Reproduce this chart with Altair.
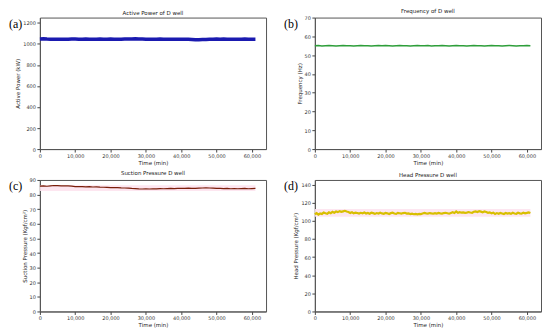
import altair as alt
import pandas as pd

# ---- data ----
x_ticks = [0, 10000, 20000, 30000, 40000, 50000, 60000]

active_power = [1047,1048,1046,1045,1044,1043,1043,1044,1045,1046,
                1046,1045,1045,1046,1045,1044,1045,1046,1045,1045,
                1046,1045,1044,1045,1046,1047,1047,1048,1047,1046,
                1045,1044,1044,1045,1046,1045,1044,1045,1044,1043,
                1043,1044,1043,1042,1040,1040,1041,1042,1044,1045,
                1046,1045,1046,1045,1044,1045,1044,1045,1046,1045,
                1044,1044]

frequency = [55.0,55.1,54.9,55.0,55.1,55.0,54.9,55.0,55.1,55.0,
             55.0,54.9,55.0,55.1,55.0,55.0,54.9,55.0,55.1,55.0,
             55.1,55.0,54.9,55.0,55.1,55.0,55.0,54.9,55.0,55.1,
             55.0,55.0,55.1,54.9,55.0,55.0,55.1,55.0,54.9,55.0,
             55.1,55.0,55.0,54.9,55.0,55.1,55.0,55.0,54.9,55.0,
             55.1,55.0,55.0,54.9,55.0,55.1,55.0,54.9,55.0,55.0,
             55.1,55.0]

suction = [85.8,85.9,85.7,86.0,86.2,86.1,86.0,85.9,86.0,85.8,
           85.5,85.4,85.5,85.3,85.4,85.2,85.3,85.1,85.0,84.9,
           84.8,84.7,84.8,84.6,84.5,84.4,84.2,84.1,83.9,83.8,
           83.9,83.8,84.0,83.9,84.1,84.0,84.1,84.2,84.1,84.3,
           84.3,84.2,84.4,84.2,84.3,84.4,84.5,84.6,84.5,84.4,
           84.3,84.2,84.1,84.2,84.0,84.1,84.0,84.1,84.2,84.0,
           84.1,84.2]

head = [107.2,108.5,106.8,108.0,107.5,109.0,108.2,107.6,109.3,108.4,
        109.8,108.9,110.2,109.5,110.6,109.8,110.4,111.0,110.2,109.6,
        108.6,109.4,108.2,109.0,108.5,107.9,108.8,108.3,109.1,108.0,
        108.7,107.8,108.9,108.4,107.6,108.5,107.9,108.8,108.1,107.7,
        108.6,108.2,107.5,108.4,108.9,108.0,107.6,108.7,108.3,107.9,
        108.5,108.8,107.9,108.2,107.4,107.8,107.2,107.5,107.0,107.6,
        107.3,108.0,108.6,108.2,107.9,108.5,108.1,107.8,108.4,108.0,
        108.6,108.2,107.9,108.5,108.8,108.3,107.8,108.6,109.4,108.5,
        110.2,108.8,109.5,108.9,109.2,108.7,109.0,109.6,109.1,108.8,
        109.9,110.3,109.7,110.5,110.1,109.4,110.2,109.6,108.8,109.3,
        108.2,108.9,107.6,108.5,107.8,108.7,108.1,107.5,108.6,107.9,
        108.4,107.6,108.8,108.0,107.7,108.9,108.2,107.8,109.0,108.3,
        108.7,109.2,108.5]

band_t = [0, 61000]
suction_band_low = [82.5, 82.5]
suction_band_high = [86.3, 86.3]
head_band_low = [104.5, 104.5]
head_band_high = [113.0, 113.0]

W, H = 227, 132
FONT = "DejaVu Sans"


def series(values, step):
    return pd.DataFrame({"t": [i * step for i in range(len(values))], "v": values})


def panel(df, color, sw, title, ytitle, ydomain, yticks, label, band=None):
    xs = alt.Scale(domain=[0, 64000], nice=False)
    ys = alt.Scale(domain=ydomain, nice=False)
    xa = alt.Axis(values=x_ticks, format=",.0f", title="Time (min)")
    ya = alt.Axis(values=yticks, format="d", title=ytitle)
    layers = []
    if band is not None:
        bdf = pd.DataFrame({"t": band_t, "lo": band[0], "hi": band[1]})
        layers.append(alt.Chart(bdf).mark_area(color="#fde3ee", opacity=0.9).encode(
            x=alt.X("t:Q", scale=xs, axis=xa),
            y=alt.Y("lo:Q", scale=ys, axis=ya),
            y2="hi:Q"))
    layers.append(alt.Chart(df).mark_line(color=color, strokeWidth=sw).encode(
        x=alt.X("t:Q", scale=xs, axis=xa),
        y=alt.Y("v:Q", scale=ys, axis=ya)))
    lab = alt.Chart(pd.DataFrame({"l": [label]})).mark_text(
        font="Liberation Serif", fontSize=12, align="left", baseline="middle", color="black"
    ).encode(text="l:N", x=alt.value(-31), y=alt.value(6))
    layers.append(lab)
    return alt.layer(*layers).properties(
        width=W, height=H,
        title=alt.TitleParams(title, fontSize=5.5, font=FONT, fontWeight="normal",
                              offset=1, anchor="middle", color="#222"))


pa = panel(series(active_power, 1000), "#1a1ab0", 3.5, "Active Power of D well",
           "Active Power (kW)", [0, 1250], [0, 200, 400, 600, 800, 1000, 1200], "(a)")
pb = panel(series(frequency, 1000), "#2e9e3a", 1.5, "Frequency of D well",
           "Frequency (Hz)", [0, 70], [0, 10, 20, 30, 40, 50, 60, 70], "(b)")
pc = panel(series(suction, 1000), "#7a1e0a", 1.2, "Suction Pressure D well",
           "Suction Pressure (Kgf/cm²)", [0, 90], list(range(0, 91, 10)), "(c)",
           band=(suction_band_low, suction_band_high))
pd_ = panel(series(head, 500), "#d8bf00", 2.2, "Head Pressure D well",
            "Head Pressure (Kgf/cm²)", [0, 145], list(range(0, 141, 20)), "(d)",
            band=(head_band_low, head_band_high))

chart = alt.vconcat(
    alt.hconcat(pa, pb, spacing=16),
    alt.hconcat(pc, pd_, spacing=16),
    spacing=4,
).properties(padding=0).configure_view(stroke="#555", strokeWidth=1).configure_axis(
    grid=False, labelFont=FONT, titleFont=FONT, labelFontSize=5, titleFontSize=5.5,
    titleFontWeight="normal", tickSize=3, tickColor="#444", domainColor="#555",
    labelColor="#333", titleColor="#222", labelPadding=1.5, titlePadding=2,
    labelOverlap=False, labelFlush=False
)

chart.save("out.html", embed_options={"renderer": "svg", "actions": False})
